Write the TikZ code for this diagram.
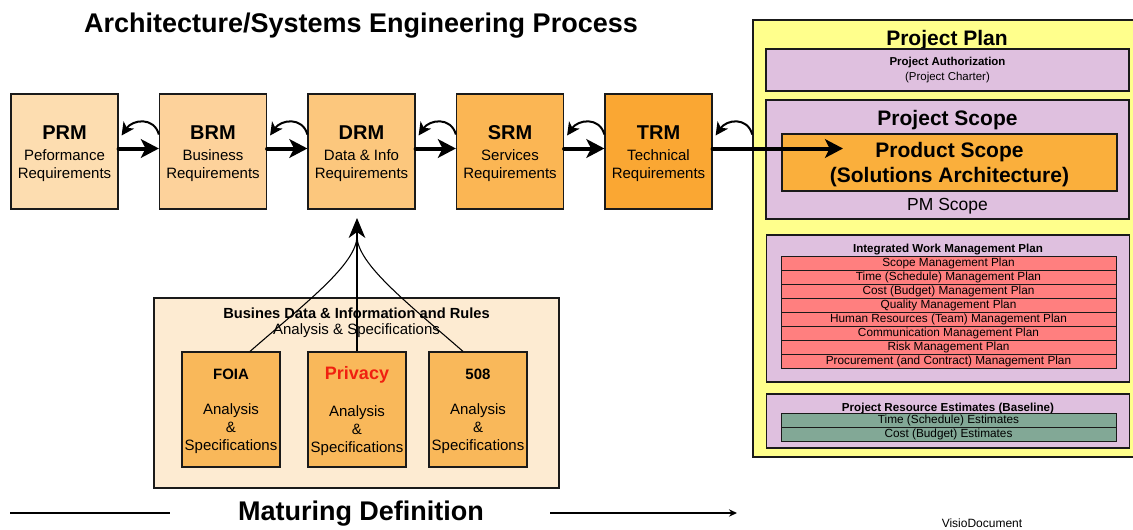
\documentclass[tikz,border=0pt]{standalone}
\usepackage{fontspec}
\setmainfont{Liberation Sans}
\usetikzlibrary{arrows.meta,calc}

% fills
\definecolor{prmfill}{HTML}{FDDDB0}
\definecolor{brmfill}{HTML}{FDD29B}
\definecolor{drmfill}{HTML}{FCC77D}
\definecolor{srmfill}{HTML}{FBB654}
\definecolor{trmfill}{HTML}{FAA733}
\definecolor{planfill}{HTML}{FFFF8C}
\definecolor{lilac}{HTML}{DFC0DF}
\definecolor{prodfill}{HTML}{FAAF3C}
\definecolor{rowred}{HTML}{FF7F7F}
\definecolor{rowgreen}{HTML}{82A896}
\definecolor{panelfill}{HTML}{FDEBD2}
\definecolor{subfill}{HTML}{F9B85A}
\definecolor{privred}{HTML}{F02010}
\definecolor{edge}{HTML}{1A1A1A}

\newcommand{\topstrut}[1]{\rule{0pt}{#1}}

\begin{document}
\begin{tikzpicture}[x=0.75pt,y=-0.75pt,
  box/.style={draw=edge, line width=0.9pt, inner sep=0pt},
  rmbox/.style={box, minimum width=80.25pt, minimum height=86.25pt, align=center,
    font=\fontsize{11.25}{13.5}\selectfont},
  lilacbox/.style={box, fill=lilac, minimum width=272.25pt},
  planrow/.style={draw=edge, line width=0.7pt, inner sep=0pt, minimum width=251.25pt,
    minimum height=10.5pt, text height=6.4pt, text depth=1.7pt,
    font=\fontsize{8.85}{9}\selectfont},
  subbox/.style={box, fill=subfill, minimum width=73.5pt, minimum height=86.25pt},
  fwd/.style={line width=3pt, line cap=round,
    -{Stealth[length=13.5pt,width=14pt,inset=3.5pt]}},
  back/.style={line width=1.5pt,
    -{Stealth[length=9.5pt,width=9.5pt,inset=2.5pt]}},
  feed/.style={line width=0.8pt},
  spec/.style={align=center, font=\fontsize{11.25}{13.5}\selectfont}
]
\useasboundingbox (0,0) rectangle (1133,529);
\fill[white] (0,0) rectangle (1133,529);

% ---------- heading ----------
\node[font=\fontsize{20.25}{22}\selectfont\bfseries] (title) at (361,26)
  {Architecture/Systems Engineering Process};

% ---------- reference model chain ----------
\node[rmbox, fill=prmfill] (prm) at (64.5,151.5)
  {\topstrut{14pt}{\fontsize{15}{15}\selectfont\bfseries PRM}\\[2.5pt]Peformance\\Requirements};
\node[rmbox, fill=brmfill] (brm) at (213,151.5)
  {\topstrut{14pt}{\fontsize{15}{15}\selectfont\bfseries BRM}\\[2.5pt]Business\\Requirements};
\node[rmbox, fill=drmfill] (drm) at (361.5,151.5)
  {\topstrut{14pt}{\fontsize{15}{15}\selectfont\bfseries DRM}\\[2.5pt]Data \& Info\\Requirements};
\node[rmbox, fill=srmfill] (srm) at (510,151.5)
  {\topstrut{14pt}{\fontsize{15}{15}\selectfont\bfseries SRM}\\[2.5pt]Services\\Requirements};
\node[rmbox, fill=trmfill] (trm) at (658.5,151.5)
  {\topstrut{14pt}{\fontsize{15}{15}\selectfont\bfseries TRM}\\[2.5pt]Technical\\Requirements};

% ---------- project plan ----------
\node[box, fill=planfill, line width=1.1pt, minimum width=288pt, minimum height=327.75pt]
  (plan) at (945,238.5) {};
\node[font=\fontsize{15.75}{16}\selectfont\bfseries] (plantitle) at (947,40) {Project Plan};

\node[lilacbox, minimum height=31.5pt] (auth) at (947.5,70) {};
\node[font=\fontsize{8.6}{9}\selectfont\bfseries] (authtitle) at (947.5,62.5) {Project Authorization};
\node[font=\fontsize{8.6}{9}\selectfont] (authsub) at (947.5,77.5) {(Project Charter)};

\node[lilacbox, minimum height=89.25pt] (scope) at (947.5,159.5) {};
\node[font=\fontsize{15.75}{16}\selectfont\bfseries] (scopetitle) at (947.5,120) {Project Scope};
\node[box, fill=prodfill, minimum width=251.25pt, minimum height=42.75pt, align=center,
  font=\fontsize{15.75}{18.75}\selectfont\bfseries] (prod) at (949.5,162.5)
  {\topstrut{14.5pt}Product Scope\\(Solutions Architecture)};
\node[font=\fontsize{13.1}{14}\selectfont] (pmscope) at (947.5,206) {PM Scope};

\node[lilacbox, minimum height=110.25pt] (iwmp) at (948,308.5) {};
\node[font=\fontsize{8.7}{9}\selectfont\bfseries] (iwmptitle) at (948,249.5)
  {Integrated Work Management Plan};
\foreach \txt [count=\i from 0] in {Scope Management Plan,
    Time (Schedule) Management Plan, Cost (Budget) Management Plan,
    Quality Management Plan, Human Resources (Team) Management Plan,
    Communication Management Plan, Risk Management Plan,
    Procurement (and Contract) Management Plan}
  \node[planrow, fill=rowred] (mp\i) at (948.5,{263+14.05*\i}) {\txt};

\node[lilacbox, minimum height=40.5pt] (pre) at (948,421) {};
\node[font=\fontsize{8.7}{9}\selectfont\bfseries] (pretitle) at (948,408.5)
  {Project Resource Estimates (Baseline)};
\node[planrow, fill=rowgreen] (est0) at (948.5,420) {Time (Schedule) Estimates};
\node[planrow, fill=rowgreen] (est1) at (948.5,434) {Cost (Budget) Estimates};

% ---------- business data panel ----------
\node[box, fill=panelfill, minimum width=303.75pt, minimum height=142.5pt] (bd) at (356.5,393) {};
\node[font=\fontsize{11}{12}\selectfont\bfseries] (bdtitle) at (356.5,313.5)
  {Busines Data \& Information and Rules};
\node[font=\fontsize{11.25}{12}\selectfont] (bdsub) at (356.5,330.5) {Analysis \& Specifications};

\node[subbox] (foia) at (231,409.5) {};
\node[subbox] (priv) at (357,409.5) {};
\node[subbox] (s508) at (478,409.5) {};
\node[font=\fontsize{11.25}{12}\selectfont\bfseries] (foiat) at (231,374.5) {FOIA};
\node[font=\fontsize{13.5}{14}\selectfont\bfseries, text=privred] (privt) at (357,375) {Privacy};
\node[font=\fontsize{11.25}{12}\selectfont\bfseries] (s508t) at (478,374.5) {508};
\node[spec] (foias) at (231,428.5) {Analysis\\\&\\Specifications};
\node[spec] (privs) at (357,430.5) {Analysis\\\&\\Specifications};
\node[spec] (s508s) at (478,428.5) {Analysis\\\&\\Specifications};

% ---------- connectors ----------
\draw[fwd] ($(prm.east)+(0,-3)$) -- ($(brm.west)+(0,-3)$);
\draw[fwd] ($(brm.east)+(0,-3)$) -- ($(drm.west)+(0,-3)$);
\draw[fwd] ($(drm.east)+(0,-3)$) -- ($(srm.west)+(0,-3)$);
\draw[fwd] ($(srm.east)+(0,-3)$) -- ($(trm.west)+(0,-3)$);
\coordinate (pstip) at (843,148.5);
\draw[fwd] ($(trm.east)+(0,-3)$) -- (pstip);

\draw[back] ($(brm.west)+(0,-17)$) .. controls +(-5,-18) and +(11,-16) .. ($(prm.east)+(3,-16)$);
\draw[back] ($(drm.west)+(0,-17)$) .. controls +(-5,-18) and +(11,-16) .. ($(brm.east)+(3,-16)$);
\draw[back] ($(srm.west)+(0,-17)$) .. controls +(-5,-18) and +(11,-16) .. ($(drm.east)+(3,-16)$);
\draw[back] ($(trm.west)+(0,-17)$) .. controls +(-5,-18) and +(11,-16) .. ($(srm.east)+(3,-16)$);
\draw[back] ($(plan.west |- trm.east)+(0,-17)$) .. controls +(-5,-18) and +(11,-16) .. ($(trm.east)+(3,-16)$);

% feeds from the analysis boxes into DRM
\coordinate (merge) at (357,236);
\coordinate (feedtip) at (357,218);
\draw[feed] ($(foia.north)+(19,0)$) .. controls +(55,-48) and +(0,28) .. (merge);
\draw[feed] ($(s508.north)+(-15,0)$) .. controls +(-55,-48) and +(0,28) .. (merge);
\draw[feed, -{Stealth[length=15pt,width=12.5pt,inset=4.5pt]}] (priv.north) -- (feedtip);

% ---------- maturing definition ----------
\node[font=\fontsize{20.25}{22}\selectfont\bfseries] (mat) at (361,514) {Maturing Definition};
\coordinate (matl) at (10,513);
\coordinate (matlend) at (170,513);
\coordinate (matrstart) at (550,513);
\coordinate (matr) at (737,513);
\draw[line width=1.1pt] (matl) -- (matlend);
\draw[line width=1.1pt, -{Stealth[length=6pt,width=5.5pt]}] (matrstart) -- (matr);

\node[font=\fontsize{9}{9}\selectfont, anchor=base] (visio) at (982,527.5) {VisioDocument};
\end{tikzpicture}
\end{document}
